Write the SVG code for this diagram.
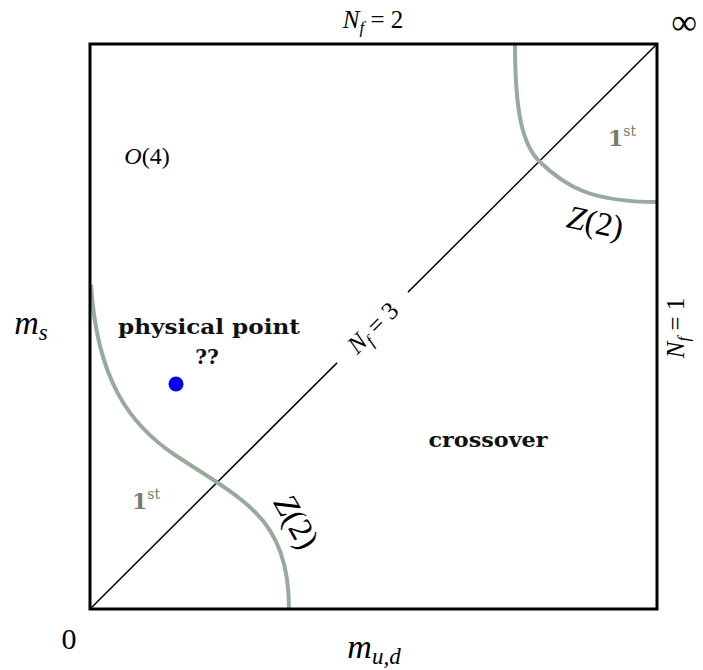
<svg xmlns="http://www.w3.org/2000/svg" width="703" height="670" viewBox="0 0 703 670">
<style>
.m{font-family:"Liberation Serif","DejaVu Serif",serif;fill:#000}
.i{font-style:italic}
.b{font-family:"DejaVu Serif","Liberation Serif",serif;font-weight:bold;fill:#111}
.g{font-family:"DejaVu Serif","Liberation Serif",serif;font-weight:bold;fill:#7b7b6c}
.crit{fill:none;stroke:#98aa9c;stroke-width:4}
</style>
<rect width="703" height="670" fill="#fff"/>
<g id="connectors">
<line x1="90" y1="609" x2="657" y2="44" stroke="#000" stroke-width="1.5"/>
<path class="crit" d="M515,44 C515,110 522,145 540,162 C565,186 590,202 657,202"/>
<path class="crit" d="M91,285 C97,380 130,425 175,455 C205,475 235,492 255,512 C278,535 289,565 289,609"/>
</g>
<g id="frame">
<rect x="90" y="44" width="567" height="565" fill="none" stroke="#000" stroke-width="3"/>
</g>
<g id="nf3">
<g transform="translate(373,328) rotate(-45)">
<rect x="-50" y="-14" width="100" height="28" fill="#fff"/>
<text class="m" x="0" y="8" text-anchor="middle" font-size="25"><tspan class="i">N</tspan><tspan class="i" font-size="17" dy="5">f</tspan><tspan dy="-5"> = 3</tspan></text>
</g>
</g>
<g id="nf2"><text class="m" x="373" y="28" text-anchor="middle" font-size="25"><tspan class="i">N</tspan><tspan class="i" font-size="17" dy="5">f</tspan><tspan dy="-5"> = 2</tspan></text></g>
<g id="nf1"><text class="m" transform="translate(684,328) rotate(-90)" text-anchor="middle" font-size="25"><tspan class="i">N</tspan><tspan class="i" font-size="17" dy="5">f</tspan><tspan dy="-5"> = 1</tspan></text></g>
<g id="inf"><text class="m" x="684" y="34" text-anchor="middle" font-size="36">∞</text></g>
<g id="zero"><text class="m" x="69" y="649" text-anchor="middle" font-size="30">0</text></g>
<g id="mud"><text class="m" x="374" y="658" text-anchor="middle" font-size="34"><tspan class="i">m</tspan><tspan class="i" font-size="23" dy="6">u,d</tspan></text></g>
<g id="ms"><text class="m" x="31" y="334" text-anchor="middle" font-size="34"><tspan class="i">m</tspan><tspan class="i" font-size="23" dy="6">s</tspan></text></g>
<g id="o4"><text class="m" x="147" y="164" text-anchor="middle" font-size="24"><tspan class="i">O</tspan>(4)</text></g>
<g id="phys">
<text class="b" x="209" y="334" text-anchor="middle" font-size="20" textLength="182" lengthAdjust="spacingAndGlyphs">physical point</text>
<text class="b" x="207" y="364" text-anchor="middle" font-size="20">??</text>
<circle cx="176" cy="384" r="7.5" fill="#0000ff"/>
</g>
<g id="crossover"><text class="b" x="488" y="447" text-anchor="middle" font-size="20" textLength="119" lengthAdjust="spacingAndGlyphs">crossover</text></g>
<g id="first-tr"><text class="g" x="608" y="146" font-size="22">1<tspan font-size="14" font-weight="normal" dy="-10">st</tspan></text></g>
<g id="first-bl"><text class="g" x="132" y="509" font-size="22">1<tspan font-size="14" font-weight="normal" dy="-10">st</tspan></text></g>
<g id="z2-tr"><text class="m" transform="translate(593,233) rotate(12)" text-anchor="middle" font-size="33"><tspan class="i">Z</tspan>(2)</text></g>
<g id="z2-bl"><text class="m" transform="translate(287,527) rotate(60)" text-anchor="middle" font-size="33"><tspan class="i">Z</tspan>(2)</text></g>
</svg>
